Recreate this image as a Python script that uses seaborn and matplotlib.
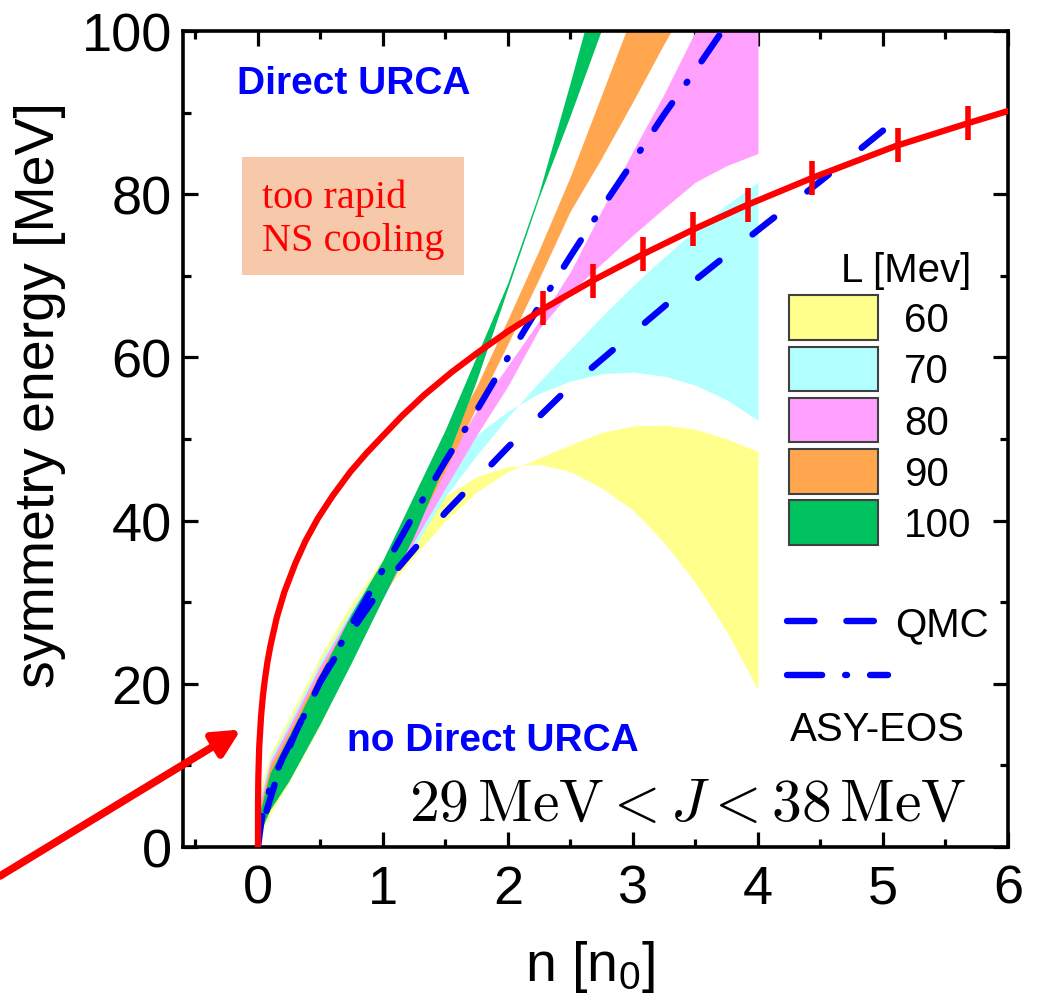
import numpy as np
import pandas as pd
import matplotlib
matplotlib.use("Agg")
import matplotlib.pyplot as plt
import seaborn as sns
from matplotlib.patches import Patch, Rectangle
from matplotlib.lines import Line2D

# ---------------- data ----------------
n_grid = [0.0, 0.1, 0.25, 0.5, 0.75, 1.0, 1.25, 1.5, 1.75, 2.0, 2.25, 2.5, 2.75,
          3.0, 3.25, 3.5, 3.75, 4.0]

L60_a = [1, 4, 8, 15, 23, 31, 35.6, 40, 43.5, 46, 47.7, 49.3, 50.8, 51.6, 51.7, 51.2, 50.0, 48.5]
L60_b = [6, 11.5, 15.9, 23.4, 29.9, 35.3, 39.7, 43.0, 45.4, 46.6, 46.9, 46.0, 44.0, 41.3, 37.3, 32.4, 26.4, 19.3]
L70_a = [3, 8, 13, 21, 27, 33, 36.8, 43, 48, 52.7, 57, 61, 65, 68.8, 72.3, 75.6, 78.7, 81.5]
L70_b = [5.2, 11, 15.3, 22.8, 29.2, 35, 41, 46.5, 50.5, 53.4, 55.6, 57.1, 58.0, 58.2, 57.7, 56.6, 54.8, 52.3]
L80_a = [4.5, 10.5, 14.8, 22.3, 28.8, 35, 41, 47, 53.5, 59, 64.5, 70.5, 78, 85.3, 92.3, 100, 108, 116]
L80_b = [2, 4.8, 8.5, 15.5, 23, 30.5, 37.5, 44, 50.5, 56.5, 63.5, 68, 71.5, 75, 78.3, 81.5, 83.5, 85]
L90_a = [3.5, 9.8, 14, 21.5, 28.2, 34.8, 42, 49.5, 56.3, 64.5, 73, 82, 92, 102, 112, 122, 132, 142]
L90_b = [2, 4.8, 8.5, 15.5, 23, 31, 38.5, 46, 53.8, 61.5, 69.5, 77.8, 84.3, 91.2, 98.3, 105, 112, 119]
L100_a = [3, 9, 13.5, 21, 28.5, 35, 43, 51, 60, 69, 80, 93.5, 107.5, 121, 134.5, 148, 161.5, 175]
L100_b = [1, 4.5, 8, 15, 22.5, 30.3, 38, 47, 57, 68.3, 79.5, 89.5, 100, 110.5, 121, 131.5, 142, 152.5]

band_labels = ["60", "70", "80", "90", "100"]
band_colors = ["#FFFF8C", "#B2FFFF", "#FFA0FF", "#FFA64F", "#00C25E"]

# red curve (direct URCA threshold)
urca_n = [0, 0.0005, 0.003, 0.01, 0.025, 0.04, 0.055, 0.075, 0.1, 0.15, 0.21, 0.3, 0.38,
          0.48, 0.6, 0.74, 0.87, 1.0, 1.15, 1.33, 1.55, 1.75, 2.0, 2.3, 2.7, 3.1, 3.5,
          3.9, 4.45, 5.1, 5.7, 6.0]
urca_S = [0, 5.5, 8.7, 12.3, 16.1, 18.6, 20.5, 22.6, 24.7, 28.1, 31.2, 34.8, 37.5,
          40.3, 43.1, 46.0, 48.3, 50.4, 52.8, 55.4, 58.2, 60.5, 63.2, 66.1, 69.6, 72.8, 75.8,
          78.6, 82.1, 85.9, 88.8, 90.2]
tick_n = [2.28, 2.68, 3.08, 3.48, 3.92, 4.43, 5.12, 5.68]
tick_S = [66, 69.4, 72.7, 75.7, 78.7, 82.0, 86.0, 88.7]

# QMC (dashed), listed from the high-density end
qmc_n = [5.0, 4.5, 4.0, 3.5, 3.0, 2.5, 2.0, 1.75, 1.5, 1.25, 1.0, 0.75, 0.5, 0.3, 0.15, 0.05, 0]
qmc_S = [87.8, 81.6, 75.6, 69.5, 63, 56.5, 49, 45, 41, 36.5, 32, 26.5, 20.3, 14, 8.5, 3.5, 0]

# ASY-EOS (dash-dot)
asy_n = [0, 0.03, 0.1, 0.2, 0.35, 0.5, 0.75, 1.0, 1.25, 1.5, 1.75, 2.0, 2.25, 2.5, 2.75,
         3.0, 3.25, 3.5, 3.75]
asy_S = [0, 3.5, 7.5, 11, 15.5, 20.3, 27.3, 34, 40.8, 47.3, 53.5, 60, 66.3, 72.4, 78.3,
         84, 89.8, 95.2, 100.8]

x_ticks = [0, 1, 2, 3, 4, 5, 6]
y_ticks = [0, 20, 40, 60, 80, 100]

# ---------------- style ----------------
sns.set_theme(style="ticks")
plt.rcParams["font.family"] = ["Liberation Sans", "DejaVu Sans"]
plt.rcParams["mathtext.fontset"] = "custom"
plt.rcParams["mathtext.rm"] = "Liberation Sans"
plt.rcParams["mathtext.it"] = "Liberation Sans:italic"
for key in ["text.color", "axes.labelcolor", "xtick.color", "ytick.color",
            "axes.edgecolor"]:
    plt.rcParams[key] = "black"

fig = plt.figure(figsize=(10.48, 10.04), dpi=100)
ax = fig.add_axes([0.1746, 0.1554, 0.7872, 0.8127])

bands = [(L60_a, L60_b), (L70_a, L70_b), (L80_a, L80_b), (L90_a, L90_b), (L100_a, L100_b)]
for (lo, hi), col in zip(bands, band_colors):
    ax.fill_between(n_grid, lo, hi, color=col, lw=0, zorder=1)

blue = "#0000FF"
sns.lineplot(x=qmc_n, y=qmc_S, ax=ax, color=blue, lw=4.6, sort=False,
             linestyle=(0, (4.3, 6.6)), dash_capstyle="round", zorder=3)
sns.lineplot(x=asy_n, y=asy_S, ax=ax, color=blue, lw=4.6, sort=False,
             linestyle=(0, (4.9, 3.9, 0.2, 3.9)), dash_capstyle="round", zorder=3)
sns.lineplot(x=urca_n, y=urca_S, ax=ax, color="#FF0000", lw=4.5, sort=False, zorder=4)
sns.scatterplot(x=tick_n, y=tick_S, ax=ax, marker="|", s=25 ** 2, linewidth=4,
                color="#FF0000", zorder=5)

ax.set_xlim(-0.6, 6)
ax.set_ylim(0, 100)
ax.set_xticks(x_ticks)
ax.set_yticks(y_ticks)
ax.set_xticks(np.arange(-0.5, 6.01, 0.5), minor=True)
ax.set_yticks(np.arange(0, 101, 10), minor=True)
ax.tick_params(which="both", direction="in", top=True, right=True, width=2.3)
ax.tick_params(which="major", length=11, labelsize=39, pad=12)
ax.tick_params(which="minor", length=5.5)
ax.tick_params(axis="y", which="major", pad=8)
for sp in ax.spines.values():
    sp.set_linewidth(2.6)
ax.grid(False)

ax.set_xlabel(r"n [n$_0$]", fontsize=40)
ax.set_ylabel("symmetry energy [MeV]", fontsize=40)
ax.xaxis.set_label_coords(0.493, -0.112)
ax.yaxis.set_label_coords(-0.142, 0.555)

# annotations
ax.text(0.77, 93.6, "Direct URCA", color=blue, fontsize=28, fontweight="bold",
        ha="center", va="center")
ax.text(1.88, 13.1, "no Direct URCA", color=blue, fontsize=28, fontweight="bold",
        ha="center", va="center")
ax.add_patch(Rectangle((-0.128, 70.1), 1.773, 14.4, facecolor="#F6C9AB",
                       edgecolor="none", zorder=2))
ax.text(0.03, 77.0, "too rapid\nNS cooling", color="#FF0000", fontsize=29,
        family=["Liberation Serif"], ha="left", va="center", linespacing=1.22, zorder=3)
ax.text(3.44, 5.2, r"$29\,\mathrm{MeV} < J < 38\,\mathrm{MeV}$", fontsize=43,
        math_fontfamily="cm", ha="center", va="center")

ax.annotate("", xy=(-0.136, 14.4), xycoords="data", xytext=(0, 127),
            textcoords="figure pixels",
            arrowprops=dict(arrowstyle="-|>", color="#FF0000", lw=5.5,
                            mutation_scale=40, shrinkA=0, shrinkB=0),
            annotation_clip=False)

# legends
patches = [Patch(facecolor=c, edgecolor="#404040", linewidth=1.5) for c in band_colors]
leg1 = ax.legend(patches, band_labels, title="L [Mev]", loc="upper left",
                 bbox_to_anchor=(0.735, 0.731), frameon=False, fontsize=29,
                 title_fontsize=29, handlelength=2.2, handleheight=1.32,
                 labelspacing=0.17, handletextpad=0.65, borderpad=0,
                 borderaxespad=0, alignment="right")
ax.add_artist(leg1)

lines = [Line2D([], [], color=blue, lw=4.6, linestyle=(0, (4.3, 5.0)), dash_capstyle="round"),
         Line2D([], [], color=blue, lw=4.6, linestyle=(0, (5.5, 3.6, 0.3, 3.6)),
                dash_capstyle="round")]
leg2 = ax.legend(lines, ["QMC", " "], loc="upper left", bbox_to_anchor=(0.732, 0.296),
                 frameon=False, fontsize=29, handlelength=2.5, labelspacing=0.4,
                 handletextpad=0.2, borderpad=0, borderaxespad=0)
ax.text(0.736, 0.145, "ASY-EOS", transform=ax.transAxes, fontsize=29,
        ha="left", va="center")

fig.savefig("out.png", dpi=100)
